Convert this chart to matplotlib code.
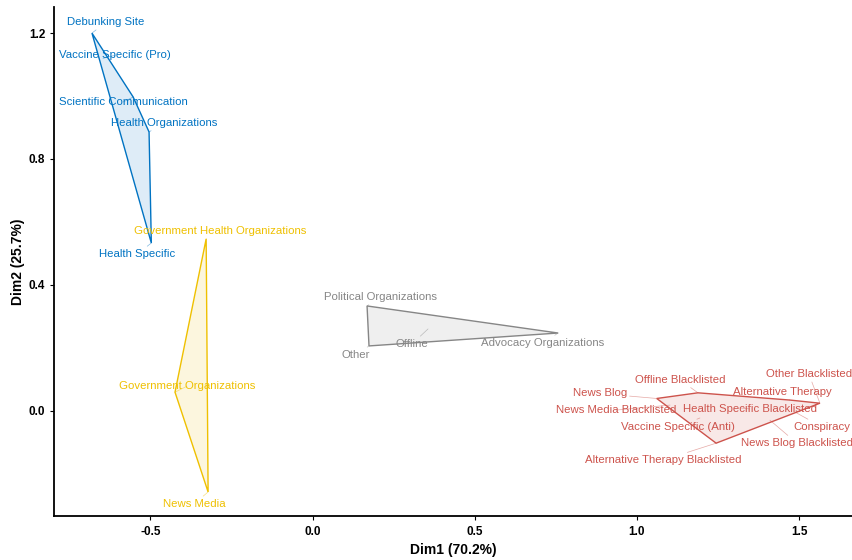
import numpy as np
import matplotlib.pyplot as plt

# correspondence analysis coordinates, grouped by cluster
blue_names = ['Debunking Site', 'Vaccine Specific (Pro)', 'Scientific Communication',
              'Health Organizations', 'Health Specific']
blue_x = [-0.680, -0.646, -0.553, -0.504, -0.497]
blue_y = [1.200, 1.120, 0.997, 0.886, 0.533]

yellow_names = ['Government Health Organizations', 'Government Organizations', 'News Media']
yellow_x = [-0.328, -0.424, -0.322]
yellow_y = [0.546, 0.059, -0.258]

gray_names = ['Political Organizations', 'Advocacy Organizations', 'Other', 'Offline']
gray_x = [0.168, 0.757, 0.174, 0.356]
gray_y = [0.333, 0.247, 0.206, 0.260]

red_names = ['News Blog', 'Offline Blacklisted', 'Other Blacklisted', 'Alternative Therapy',
             'News Media Blacklisted', 'Health Specific Blacklisted', 'Vaccine Specific (Anti)',
             'Conspiracy', 'News Blog Blacklisted', 'Alternative Therapy Blacklisted']
red_x = [1.061, 1.188, 1.564, 1.471, 1.102, 1.317, 1.194, 1.487, 1.410, 1.244]
red_y = [0.039, 0.057, 0.024, 0.034, 0.018, 0.009, -0.023, -0.004, -0.030, -0.103]

# label offsets in pixels (repel-style placement)
offsets = {
    'Debunking Site': (14, 11), 'Vaccine Specific (Pro)': (12, 3),
    'Scientific Communication': (-10, -5), 'Health Organizations': (15, 9),
    'Health Specific': (-14, -11),
    'Government Health Organizations': (14, 8), 'Government Organizations': (12, 6),
    'News Media': (-14, -12),
    'Political Organizations': (13, 9), 'Advocacy Organizations': (-15, -10),
    'Other': (-13, -9), 'Offline': (-16, -15),
    'News Blog': (-57, 5), 'Offline Blacklisted': (-18, 13), 'Other Blacklisted': (-11, 29),
    'Alternative Therapy': (-7, 8), 'News Media Blacklisted': (-54, -5),
    'Health Specific Blacklisted': (10, -1), 'Vaccine Specific (Anti)': (-22, -9),
    'Conspiracy': (27, -15), 'News Blog Blacklisted': (27, -23),
    'Alternative Therapy Blacklisted': (-53, -17),
}

groups = [
    (blue_names, blue_x, blue_y, '#0073C2'),
    (yellow_names, yellow_x, yellow_y, '#EFC000'),
    (gray_names, gray_x, gray_y, '#868686'),
    (red_names, red_x, red_y, '#CD534C'),
]


def convex_hull(pts):
    pts = sorted(set(pts))
    def cross(o, a, b):
        return (a[0] - o[0]) * (b[1] - o[1]) - (a[1] - o[1]) * (b[0] - o[0])
    lower, upper = [], []
    for p in pts:
        while len(lower) >= 2 and cross(lower[-2], lower[-1], p) <= 0:
            lower.pop()
        lower.append(p)
    for p in reversed(pts):
        while len(upper) >= 2 and cross(upper[-2], upper[-1], p) <= 0:
            upper.pop()
        upper.append(p)
    return lower[:-1] + upper[:-1]


plt.rcParams['font.family'] = ['Liberation Sans', 'DejaVu Sans']

fig = plt.figure(figsize=(8.53, 5.6), dpi=100)
ax = fig.add_axes([0.0637, 0.0777, 0.9363, 0.9098])

for names, xs, ys, col in groups:
    hull = np.array(convex_hull(list(zip(xs, ys))))
    ax.fill(hull[:, 0], hull[:, 1], facecolor=col, alpha=0.13, edgecolor='none', zorder=1)
    ax.fill(hull[:, 0], hull[:, 1], facecolor='none', edgecolor=col, lw=1.0, zorder=2)
    for n, x, y in zip(names, xs, ys):
        ax.annotate(n, (x, y), xytext=offsets[n], textcoords='offset pixels',
                    ha='center', va='center', fontsize=8.2, color=col, zorder=3,
                    arrowprops=dict(arrowstyle='-', color=col, lw=0.5, alpha=0.5,
                                    shrinkA=0, shrinkB=0))

ax.set_xlim(-0.796, 1.666)
ax.set_ylim(-0.336, 1.283)
ax.set_xticks([-0.5, 0.0, 0.5, 1.0, 1.5])
ax.set_yticks([0.0, 0.4, 0.8, 1.2])
ax.set_xticklabels(['-0.5', '0.0', '0.5', '1.0', '1.5'])
ax.set_yticklabels(['0.0', '0.4', '0.8', '1.2'])
ax.spines['top'].set_visible(False)
ax.spines['right'].set_visible(False)
for s in ('left', 'bottom'):
    ax.spines[s].set_linewidth(1.3)
ax.tick_params(length=3, width=0.8, labelsize=8.5)
for lab in ax.get_xticklabels() + ax.get_yticklabels():
    lab.set_fontweight('bold')
ax.set_xlabel('Dim1 (70.2%)', fontsize=10, fontweight='bold', labelpad=4)
ax.set_ylabel('Dim2 (25.7%)', fontsize=10, fontweight='bold', labelpad=3)

fig.savefig('out.png', dpi=100)
